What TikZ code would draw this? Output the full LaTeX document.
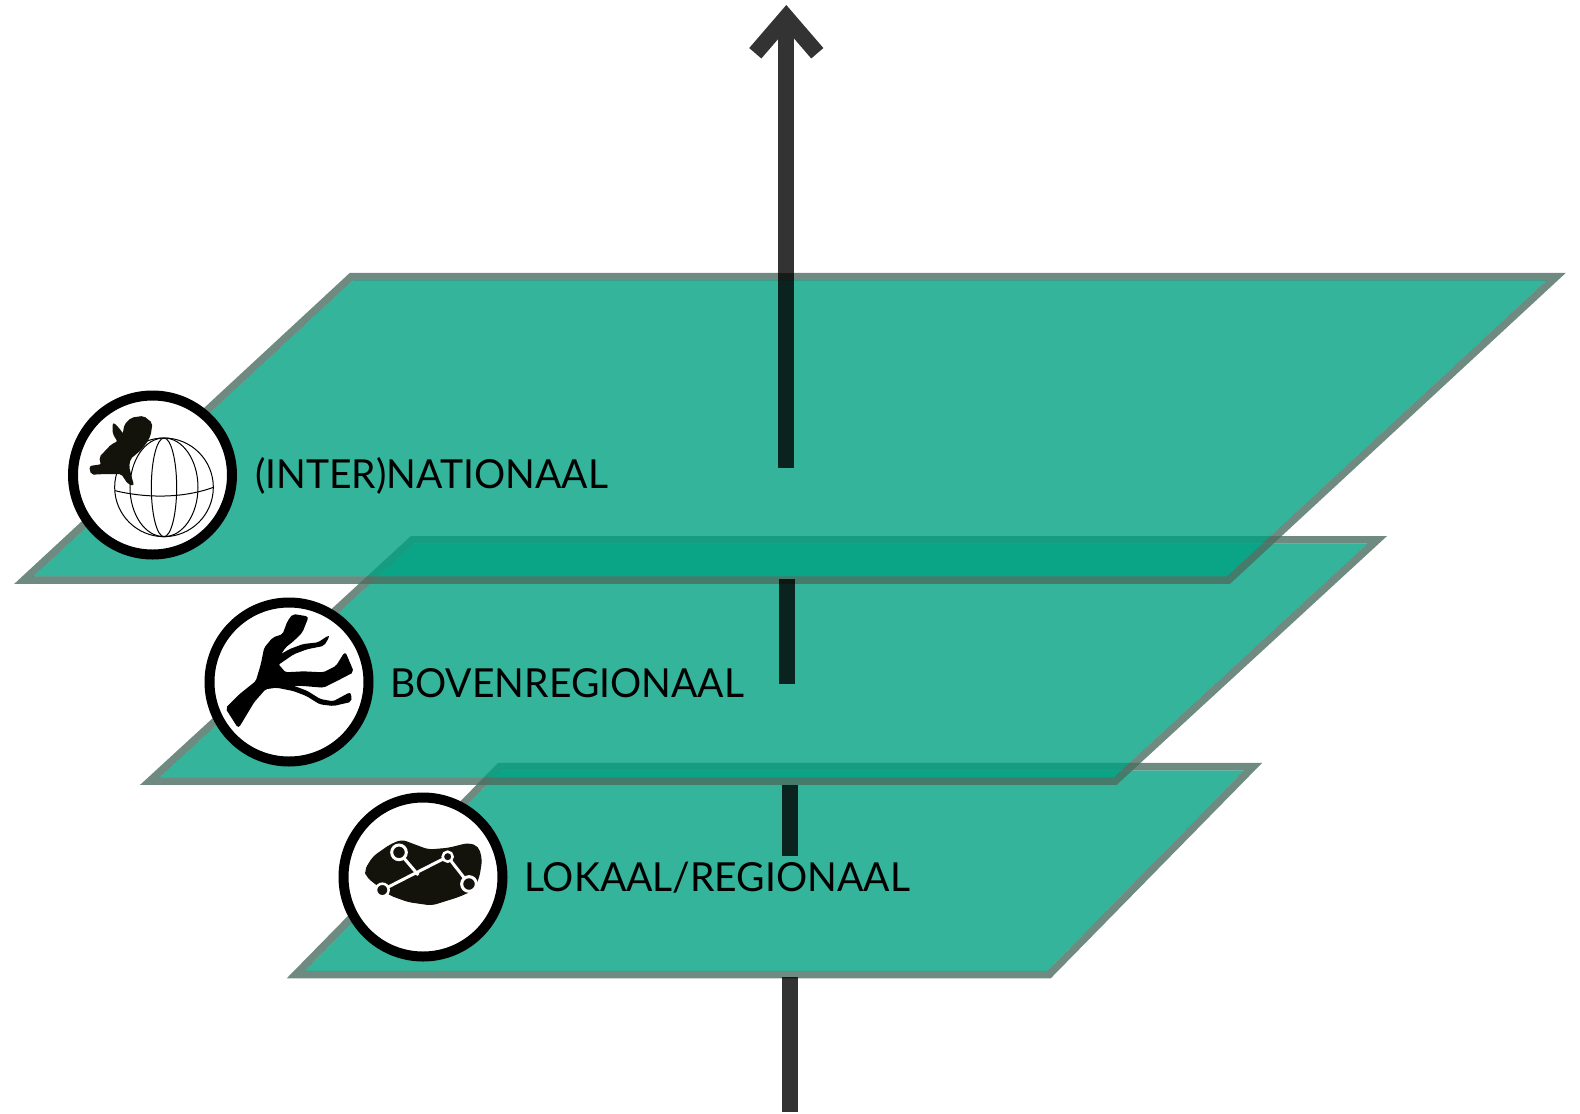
\documentclass[tikz,border=0pt]{standalone}
\usepackage{fontspec}
\setmainfont[FakeStretch=0.975]{Lato}
\usetikzlibrary{arrows.meta,positioning,calc}
\definecolor{planefill}{HTML}{00A182}
\definecolor{planeedge}{HTML}{4B6D60}
\definecolor{axiscol}{HTML}{333333}
\definecolor{iconcol}{HTML}{14130B}

\begin{document}
\begin{tikzpicture}[x=1pt, y=-1pt, line join=miter,
        planetop/.style={fill=planefill, fill opacity=0.8},
        planerim/.style={draw=planeedge, line width=7.5pt, draw opacity=0.8},
        axis/.style={draw=axiscol, line width=16pt},
        axisin/.style={axis, blend mode=multiply},
        badge/.style={circle, draw=black, fill=white, line width=10pt, minimum size=159pt, inner sep=0pt},
        level/.style={anchor=base west, inner sep=0pt, text=black, font=\fontsize{40}{44}\selectfont},
        icon/.style={fill=iconcol, draw=iconcol, line width=1pt, rounded corners=2pt},
        globeline/.style={draw=black, line width=1pt}]
        \useasboundingbox (0,0) rectangle (1580,1114);

        % plane 3 (bottom)
        \path[planetop] (501.25,770.4) -- (1244.25,770.4) -- (1047.55,970.8) -- (304.55,970.8) -- cycle;
        \path[planerim] (499.6,766.7) -- (1253.1,766.7) -- (1049.2,974.5) -- (295.7,974.5) -- cycle;

        % plane 2 (middle)
        \path[planetop] (413.9,543.5) -- (1367.9,543.5) -- (1113.6,777.5) -- (159.1,777.5) -- cycle;
        \path[planerim] (412.4,539.8) -- (1377.4,539.8) -- (1115.1,781.2) -- (149.6,781.2) -- cycle;

        % plane 1 (top)
        \path[planetop] (352.9,280.2) -- (1546.9,280.2) -- (1226.9,576.5) -- (33.2,576.5) -- cycle;
        \path[planerim] (351.4,276.5) -- (1556.4,276.5) -- (1228.4,580.2) -- (23.7,580.2) -- cycle;

        % axis, cut in pieces
        \coordinate (tip) at (786.3,5);
        \coordinate (a0) at (786.3,272.7);
        \coordinate (a1) at (786.3,467.7);
        \coordinate (b0) at (787.2,579);
        \coordinate (b1) at (787.2,684);
        \coordinate (c0) at (790.2,785);
        \coordinate (c1) at (790.2,856);
        \coordinate (d0) at (790.2,977);
        \coordinate (d1) at (790.2,1112);
        \draw[axis, -{Straight Barb[length=36pt, width=62pt, line width=16pt]}] (a0) -- (tip);
        \draw[axisin] (a0) -- (a1);
        \draw[axisin] (b0) -- (b1);
        \draw[axisin] (c0) -- (c1);
        \draw[axisin] (d0) -- (d1);

        % badges
        \node[badge] (world) at (152.5,475) {};
        \node[badge] (river) at (289,682) {};
        \node[badge] (route) at (423,877) {};

        % labels
        \node[level] (worldtext) at (255,488) {(INTER)NATIONAAL};
        \node[level] (rivertext) at (390,697) {BOVENREGIONAAL};
        \node[level] (routetext) at (524,891) {LOKAAL/REGIONAAL};

        % globe and country
        \begin{scope}[shift={(50,370)}, scale=1/3]
            \draw[globeline] (342,352) circle (148);
            \draw[globeline] (342,352) ellipse (102 and 148);
            \draw[globeline] (342,352) ellipse (38 and 148);
            \draw[globeline] (195,362) .. controls (290,385) and (400,385) .. (490,352);
            \path[icon, line width=1.5pt] (120,290) -- (155,285) -- (150,262) -- (185,225) -- (205,215) -- (190,190)
                -- (190,160) -- (205,175) -- (220,195) -- (225,165) -- (245,145) -- (280,140)
                -- (305,160) -- (300,195) -- (290,215) -- (270,240) -- (240,265) -- (235,290)
                -- (245,330) -- (250,345) -- (235,340) -- (215,310) -- (160,310) -- (125,312) -- cycle;
        \end{scope}

        % river
        \begin{scope}[shift={(190,585)}, scale=1/3]
            \path[icon, fill=black, draw=black, line width=2pt] (110,370) -- (150,330) -- (200,290) -- (215,240) -- (225,190) -- (250,160)
                -- (280,150) -- (295,110) -- (310,90) -- (352,97) -- (335,140) -- (310,165) -- (285,185)
                -- (265,215) -- (300,195) -- (340,180) -- (385,175) -- (415,155) -- (400,180) -- (350,190)
                -- (310,205) -- (262,238) -- (285,265) -- (340,262) -- (400,265) -- (440,245) -- (465,205)
                -- (488,260) -- (440,285) -- (400,305) -- (340,300) -- (265,298) -- (310,305) -- (350,320)
                -- (390,345) -- (430,352) -- (480,325) -- (482,348) -- (430,360) -- (390,355) -- (350,330)
                -- (310,315) -- (260,305) -- (225,310) -- (190,350) -- (145,425) -- cycle;
        \end{scope}

        % region with routes
        \begin{scope}[shift={(325,780)}, scale=1/3]
            \path[icon, rounded corners=5pt] (120,270) -- (145,230) -- (195,195) -- (230,180) -- (270,195) -- (310,210)
                -- (370,205) -- (430,190) -- (460,200) -- (470,240) -- (462,290) -- (445,330) -- (400,350)
                -- (320,375) -- (250,365) -- (195,345) -- (150,310) -- (125,290) -- cycle;
            \draw[white, line width=3pt] (222,217) -- (280,285);
            \draw[white, line width=3pt] (172,330) -- (368,230) -- (432,312);
            \draw[white, fill=iconcol, line width=3pt] (222,217) circle (22);
            \draw[white, fill=iconcol, line width=2.5pt] (368,230) circle (15);
            \draw[white, fill=iconcol, line width=3pt] (432,312) circle (22);
            \draw[white, fill=iconcol, line width=2.5pt] (172,330) circle (19);
        \end{scope}
    \end{tikzpicture}
\end{document}
